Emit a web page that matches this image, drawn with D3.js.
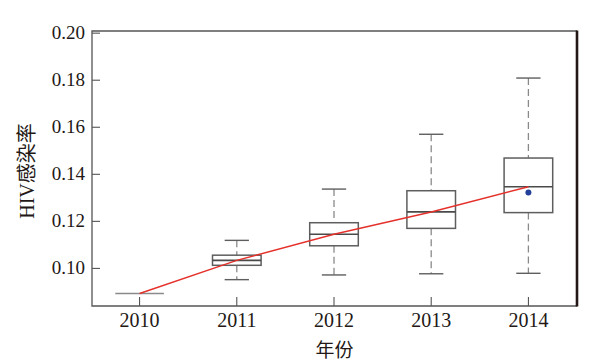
<!DOCTYPE html>
<html>
<head>
<meta charset="utf-8">
<script src="https://cdn.jsdelivr.net/npm/d3@7"></script>
<style>
  body { margin: 0; background: #fff; }
  text { font-family: "Liberation Serif", "Times New Roman", "Noto Sans CJK SC", serif; fill: #231815; }
</style>
</head>
<body>
<script>
// data
var years = ["2010", "2011", "2012", "2013", "2014"];
var lowWhisker = [0.0891, 0.0950, 0.0970, 0.0975, 0.0977];
var q1 = [0.0891, 0.1011, 0.1094, 0.1168, 0.1235];
var median = [0.0891, 0.1032, 0.1143, 0.1238, 0.1345];
var q3 = [0.0891, 0.1054, 0.1192, 0.1328, 0.1467];
var highWhisker = [0.0891, 0.1117, 0.1335, 0.1568, 0.1807];
var outlierYear = ["2014"];
var outlierValue = [0.1320];
var yTicks = [0.10, 0.12, 0.14, 0.16, 0.18, 0.20];

var width = 599, height = 362;
var plotLeft = 92, plotRight = 577, plotTop = 31, plotBottom = 306;

var svg = d3.select("body").append("svg")
  .attr("width", width)
  .attr("height", height);

var x = d3.scaleBand().domain(years).range([91, 577]);
var y = d3.scaleLinear().domain([0.0838, 0.2007]).range([plotBottom, plotTop]);

var boxes = years.map(function(d, i) {
  return { year: d, lo: lowWhisker[i], q1: q1[i], med: median[i], q3: q3[i], hi: highWhisker[i] };
});

var bw = x.bandwidth() * 0.5;
var cw = x.bandwidth() * 0.25;

var g = svg.append("g").selectAll("g")
  .data(boxes)
  .enter()
  .append("g")
  .attr("transform", function(d) { return "translate(" + (x(d.year) + x.bandwidth() / 2) + ",0)"; });

var real = g.filter(function(d) { return d.hi > d.lo; });

// dashed whiskers
real.append("line")
  .attr("y1", function(d) { return y(d.hi); })
  .attr("y2", function(d) { return y(d.q3); })
  .attr("stroke", "#8a8a8a").attr("stroke-width", 1.3)
  .attr("stroke-dasharray", "7,4");
real.append("line")
  .attr("y1", function(d) { return y(d.q1); })
  .attr("y2", function(d) { return y(d.lo); })
  .attr("stroke", "#8a8a8a").attr("stroke-width", 1.3)
  .attr("stroke-dasharray", "7,4");

// caps
real.selectAll(".cap")
  .data(function(d) { return [d.hi, d.lo]; })
  .enter()
  .append("line")
  .attr("x1", -cw / 2).attr("x2", cw / 2)
  .attr("y1", function(v) { return y(v); })
  .attr("y2", function(v) { return y(v); })
  .attr("stroke", "#5e5e5e").attr("stroke-width", 1.4);

// boxes
g.append("rect")
  .attr("x", -bw / 2)
  .attr("width", bw)
  .attr("y", function(d) { return y(d.q3); })
  .attr("height", function(d) { return y(d.q1) - y(d.q3); })
  .attr("fill", "none")
  .attr("stroke", function(d) { return d.hi > d.lo ? "#5e5e5e" : "#8a8a8a"; })
  .attr("stroke-width", 1.5);

// medians
g.append("line")
  .attr("x1", -bw / 2).attr("x2", bw / 2)
  .attr("y1", function(d) { return y(d.med); })
  .attr("y2", function(d) { return y(d.med); })
  .attr("stroke", function(d) { return d.hi > d.lo ? "#4a4a4a" : "#8a8a8a"; })
  .attr("stroke-width", 1.6);

// red line through medians
var line = d3.line()
  .x(function(d) { return x(d.year) + x.bandwidth() / 2; })
  .y(function(d) { return y(d.med); });
svg.append("path")
  .datum(boxes)
  .attr("d", line)
  .attr("fill", "none")
  .attr("stroke", "#e5312b")
  .attr("stroke-width", 1.5);

// mean point
svg.selectAll(".dot")
  .data(outlierYear)
  .enter()
  .append("circle")
  .attr("cx", function(d) { return x(d) + x.bandwidth() / 2; })
  .attr("cy", function(d, i) { return y(outlierValue[i]); })
  .attr("r", 3)
  .attr("fill", "#22409a");

// axes, ticks inward
var yAxis = d3.axisLeft(y).tickValues(yTicks).tickFormat(d3.format(".2f")).tickSize(-8).tickPadding(7);
svg.append("g")
  .attr("transform", "translate(" + plotLeft + ",0)")
  .call(yAxis)
  .call(function(a) {
    a.select(".domain").remove();
    a.selectAll("line").attr("stroke", "#444");
    a.selectAll("text").attr("font-size", 19).style("font-family", "Liberation Serif").attr("fill", "#231815");
  });

var xAxis = d3.axisBottom(x).tickSize(-9).tickPadding(7);
svg.append("g")
  .attr("transform", "translate(0," + plotBottom + ")")
  .call(xAxis)
  .call(function(a) {
    a.select(".domain").remove();
    a.selectAll("line").attr("stroke", "#444");
    a.selectAll("text").attr("font-size", 20).style("font-family", "Liberation Serif").attr("fill", "#231815");
  });

// frame
svg.append("path")
  .attr("d", "M" + plotRight + "," + plotTop + "H" + plotLeft + "V" + plotBottom + "H" + plotRight)
  .attr("fill", "none").attr("stroke", "#555").attr("stroke-width", 1.3);
svg.append("line")
  .attr("x1", plotRight).attr("x2", plotRight)
  .attr("y1", plotTop - 0.6).attr("y2", plotBottom + 0.6)
  .attr("stroke", "#231815").attr("stroke-width", 2.6);

// axis titles
svg.append("text")
  .attr("x", (plotLeft + plotRight) / 2)
  .attr("y", 357)
  .attr("text-anchor", "middle")
  .attr("font-size", 19)
  .text("年份");

svg.append("text")
  .attr("transform", "translate(34,171) rotate(-90)")
  .attr("text-anchor", "middle")
  .attr("font-size", 20)
  .text("HIV感染率");
</script>
</body>
</html>
